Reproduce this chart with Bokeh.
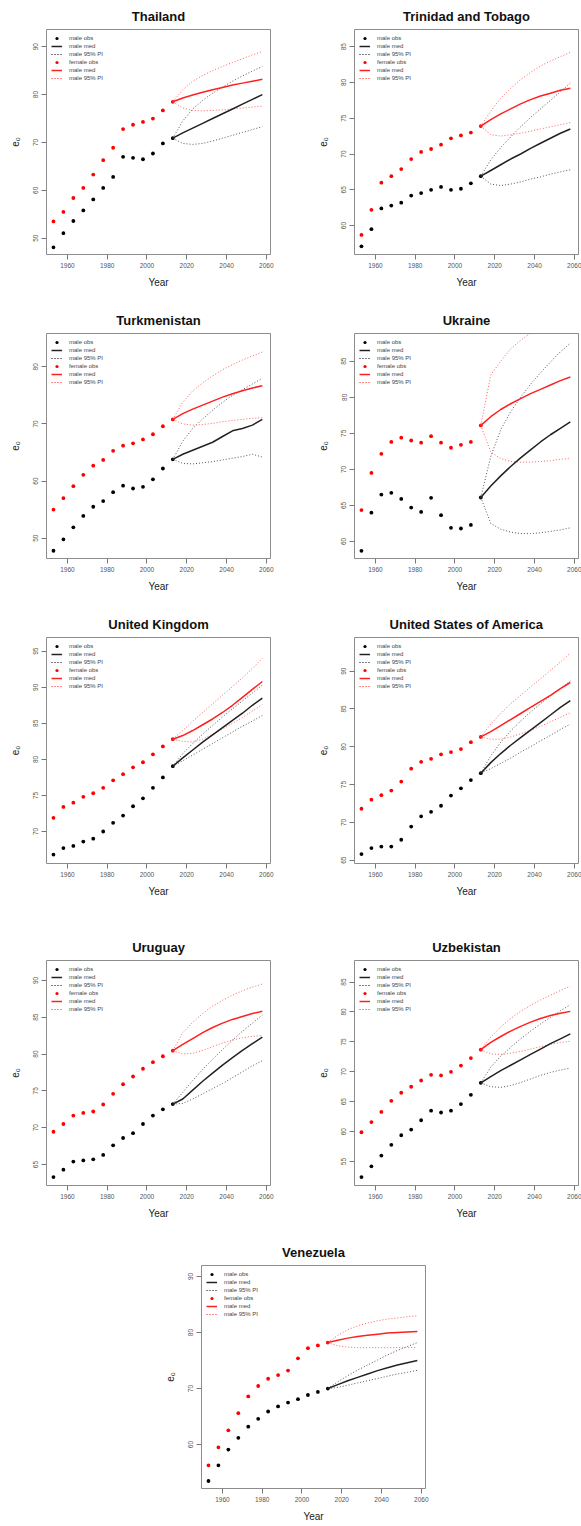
from bokeh.plotting import figure
from bokeh.layouts import column, row, Spacer
from bokeh.models import Legend, LegendItem, FixedTicker, Range1d
from bokeh.embed import file_html
from bokeh.resources import INLINE

YEARS_OBS = [1953, 1958, 1963, 1968, 1973, 1978, 1983, 1988, 1993, 1998, 2003, 2008, 2013]
YEARS_PROJ = [2013, 2018, 2023, 2028, 2033, 2038, 2043, 2048, 2053, 2058]
X_TICKS = [1960, 1980, 2000, 2020, 2040, 2060]

# ---------------- Thailand
tha_yticks = [50, 60, 70, 80, 90]
tha_male_obs = [48.1, 51.05, 53.6, 55.8, 58.1, 60.5, 62.8, 67.0, 66.8, 66.5, 67.7, 69.8, 70.9]
tha_female_obs = [53.5, 55.5, 58.4, 60.5, 63.3, 66.3, 68.9, 72.8, 73.7, 74.3, 75.0, 76.7, 78.5]
tha_male_med = [70.9, 72.0, 73.0, 74.0, 75.0, 76.0, 77.0, 78.0, 79.0, 80.0]
tha_male_hi = [70.9, 74.5, 77.0, 78.8, 80.3, 81.6, 82.8, 83.9, 84.9, 85.9]
tha_male_lo = [70.9, 69.8, 69.6, 69.8, 70.3, 70.9, 71.5, 72.1, 72.7, 73.3]
tha_fem_med = [78.5, 79.3, 79.9, 80.5, 81.0, 81.5, 82.0, 82.4, 82.8, 83.2]
tha_fem_hi = [78.5, 81.0, 82.8, 84.0, 85.0, 85.9, 86.7, 87.5, 88.3, 89.0]
tha_fem_lo = [78.5, 77.2, 76.7, 76.6, 76.7, 76.8, 77.0, 77.2, 77.4, 77.6]

# ---------------- Trinidad and Tobago
tto_yticks = [60, 65, 70, 75, 80, 85]
tto_male_obs = [57.1, 59.5, 62.4, 62.8, 63.2, 64.2, 64.55, 65.0, 65.4, 65.0, 65.15, 65.9, 66.9]
tto_female_obs = [58.7, 62.2, 66.0, 66.9, 67.9, 69.3, 70.3, 70.7, 71.3, 72.2, 72.6, 73.0, 73.9]
tto_male_med = [66.9, 67.7, 68.5, 69.3, 70.0, 70.8, 71.5, 72.2, 72.9, 73.5]
tto_male_hi = [66.9, 69.2, 70.9, 72.4, 73.8, 75.1, 76.3, 77.5, 78.7, 79.9]
tto_male_lo = [66.9, 65.8, 65.6, 65.8, 66.1, 66.5, 66.8, 67.2, 67.5, 67.8]
tto_fem_med = [73.9, 74.8, 75.6, 76.3, 77.0, 77.6, 78.1, 78.5, 78.9, 79.2]
tto_fem_hi = [73.9, 76.0, 77.8, 79.2, 80.4, 81.4, 82.3, 83.0, 83.6, 84.2]
tto_fem_lo = [73.9, 72.7, 72.5, 72.7, 72.9, 73.2, 73.5, 73.8, 74.1, 74.4]

# ---------------- Turkmenistan
tkm_yticks = [50, 60, 70, 80]
tkm_male_obs = [47.8, 49.8, 51.9, 53.9, 55.5, 56.5, 58.05, 59.2, 58.7, 59.0, 60.3, 62.2, 63.8]
tkm_female_obs = [55.0, 57.0, 59.1, 61.1, 62.7, 63.7, 65.3, 66.2, 66.6, 67.3, 68.2, 69.6, 70.8]
tkm_male_med = [63.8, 64.7, 65.4, 66.1, 66.8, 67.8, 68.8, 69.2, 69.8, 70.8]
tkm_male_hi = [63.8, 67.0, 69.2, 70.9, 72.4, 73.8, 75.0, 76.0, 77.0, 78.0]
tkm_male_lo = [63.8, 63.1, 63.0, 63.2, 63.4, 63.7, 64.0, 64.3, 64.7, 64.2]
tkm_fem_med = [70.8, 71.8, 72.6, 73.3, 74.0, 74.7, 75.3, 75.8, 76.3, 76.7]
tkm_fem_hi = [70.8, 73.8, 75.8, 77.2, 78.4, 79.5, 80.4, 81.2, 81.9, 82.6]
tkm_fem_lo = [70.8, 70.0, 69.8, 69.9, 70.1, 70.4, 70.6, 70.8, 71.0, 71.1]

# ---------------- Ukraine
ukr_yticks = [60, 65, 70, 75, 80, 85]
ukr_male_obs = [58.7, 64.0, 66.5, 66.75, 65.9, 64.7, 64.1, 66.05, 63.65, 61.9, 61.8, 62.3, 66.1]
ukr_female_obs = [64.35, 69.5, 72.15, 73.8, 74.4, 74.0, 73.7, 74.6, 73.7, 73.0, 73.4, 73.8, 76.1]
ukr_male_med = [66.1, 67.7, 69.1, 70.4, 71.6, 72.7, 73.8, 74.8, 75.7, 76.6]
ukr_male_hi = [66.1, 71.8, 75.5, 78.0, 80.0, 81.8, 83.4, 84.9, 86.3, 87.5]
ukr_male_lo = [66.1, 62.5, 61.7, 61.3, 61.1, 61.1, 61.2, 61.4, 61.6, 61.9]
ukr_fem_med = [76.1, 77.3, 78.3, 79.1, 79.8, 80.5, 81.1, 81.7, 82.3, 82.8]
ukr_fem_hi = [76.1, 83.1, 85.0, 86.7, 87.9, 88.9, 89.8, 90.5, 91.1, 91.7]
ukr_fem_lo = [76.1, 72.4, 71.5, 71.1, 71.0, 71.0, 71.1, 71.2, 71.4, 71.5]

# ---------------- United Kingdom
gbr_yticks = [70, 75, 80, 85, 90, 95]
gbr_male_obs = [66.8, 67.7, 68.0, 68.6, 69.0, 70.0, 71.2, 72.2, 73.5, 74.6, 76.05, 77.5, 79.05]
gbr_female_obs = [71.9, 73.4, 74.0, 74.8, 75.3, 76.05, 77.1, 77.95, 78.9, 79.6, 80.7, 81.8, 82.8]
gbr_male_med = [79.05, 80.2, 81.3, 82.4, 83.4, 84.4, 85.4, 86.4, 87.5, 88.5]
gbr_male_hi = [79.05, 80.8, 82.2, 83.5, 84.7, 85.9, 87.0, 88.1, 89.2, 90.3]
gbr_male_lo = [79.05, 79.8, 80.6, 81.4, 82.2, 83.0, 83.8, 84.6, 85.3, 86.1]
gbr_fem_med = [82.8, 83.3, 84.0, 84.8, 85.6, 86.5, 87.5, 88.6, 89.7, 90.8]
gbr_fem_hi = [82.8, 84.0, 85.3, 86.5, 87.7, 88.9, 90.1, 91.3, 92.6, 94.0]
gbr_fem_lo = [82.8, 82.5, 82.4, 82.8, 83.5, 84.2, 85.0, 85.8, 86.7, 87.6]

# ---------------- United States of America
usa_yticks = [65, 70, 75, 80, 85, 90]
usa_male_obs = [65.8, 66.6, 66.8, 66.8, 67.7, 69.45, 70.8, 71.4, 72.2, 73.55, 74.5, 75.6, 76.5]
usa_female_obs = [71.8, 73.0, 73.6, 74.2, 75.4, 77.1, 78.0, 78.4, 79.0, 79.3, 79.7, 80.6, 81.3]
usa_male_med = [76.5, 77.9, 79.1, 80.2, 81.2, 82.2, 83.2, 84.2, 85.2, 86.1]
usa_male_hi = [76.5, 78.8, 80.6, 82.1, 83.4, 84.6, 85.7, 86.7, 87.7, 88.7]
usa_male_lo = [76.5, 77.1, 77.8, 78.5, 79.3, 80.0, 80.8, 81.5, 82.3, 83.0]
usa_fem_med = [81.3, 82.0, 82.8, 83.6, 84.4, 85.2, 86.0, 86.8, 87.7, 88.5]
usa_fem_hi = [81.3, 83.0, 84.4, 85.7, 86.8, 87.9, 89.0, 90.1, 91.2, 92.4]
usa_fem_lo = [81.3, 81.0, 81.0, 81.3, 81.7, 82.2, 82.7, 83.3, 83.9, 84.5]

# ---------------- Uruguay
ury_yticks = [65, 70, 75, 80, 85, 90]
ury_male_obs = [63.3, 64.3, 65.4, 65.55, 65.7, 66.3, 67.6, 68.6, 69.25, 70.5, 71.65, 72.5, 73.2]
ury_female_obs = [69.45, 70.5, 71.65, 72.0, 72.2, 73.15, 74.6, 75.9, 76.95, 78.0, 78.9, 79.7, 80.45]
ury_male_med = [73.2, 73.9, 75.1, 76.3, 77.4, 78.5, 79.5, 80.5, 81.4, 82.3]
ury_male_hi = [73.2, 74.8, 76.4, 77.9, 79.3, 80.6, 81.9, 83.1, 84.2, 85.3]
ury_male_lo = [73.2, 73.3, 73.9, 74.6, 75.3, 76.0, 76.8, 77.6, 78.4, 79.1]
ury_fem_med = [80.45, 81.3, 82.1, 82.9, 83.6, 84.2, 84.7, 85.1, 85.5, 85.8]
ury_fem_hi = [80.45, 82.9, 84.3, 85.5, 86.5, 87.3, 88.0, 88.6, 89.1, 89.5]
ury_fem_lo = [80.45, 80.0, 80.1, 80.5, 81.0, 81.5, 81.9, 82.2, 82.4, 82.5]

# ---------------- Uzbekistan
uzb_yticks = [55, 60, 65, 70, 75, 80, 85]
uzb_male_obs = [52.4, 54.2, 56.0, 57.8, 59.4, 60.35, 61.9, 63.5, 63.2, 63.5, 64.6, 66.15, 68.15]
uzb_female_obs = [59.9, 61.6, 63.3, 65.15, 66.5, 67.5, 68.55, 69.5, 69.4, 70.0, 71.05, 72.3, 73.7]
uzb_male_med = [68.15, 69.2, 70.2, 71.1, 72.0, 72.9, 73.8, 74.7, 75.5, 76.35]
uzb_male_hi = [68.15, 70.8, 72.6, 74.1, 75.5, 76.8, 78.0, 79.1, 80.2, 81.2]
uzb_male_lo = [68.15, 67.5, 67.4, 67.7, 68.2, 68.8, 69.4, 69.9, 70.3, 70.6]
uzb_fem_med = [73.7, 74.9, 75.9, 76.8, 77.6, 78.3, 78.9, 79.4, 79.8, 80.1]
uzb_fem_hi = [73.7, 75.8, 77.5, 78.9, 80.1, 81.1, 82.0, 82.8, 83.6, 84.3]
uzb_fem_lo = [73.7, 73.0, 72.9, 73.1, 73.4, 73.8, 74.2, 74.6, 74.9, 75.1]

# ---------------- Venezuela
ven_yticks = [60, 70, 80, 90]
ven_male_obs = [53.5, 56.3, 59.1, 61.2, 63.2, 64.6, 65.9, 66.8, 67.5, 68.1, 68.85, 69.4, 70.0]
ven_female_obs = [56.3, 59.5, 62.55, 65.6, 68.6, 70.45, 71.75, 72.4, 73.2, 75.4, 77.2, 77.7, 78.2]
ven_male_med = [70.0, 70.7, 71.4, 72.0, 72.6, 73.2, 73.7, 74.2, 74.6, 75.0]
ven_male_hi = [70.0, 71.2, 72.3, 73.3, 74.2, 75.1, 76.0, 76.8, 77.5, 78.2]
ven_male_lo = [70.0, 70.2, 70.6, 71.0, 71.4, 71.8, 72.2, 72.6, 72.9, 73.25]
ven_fem_med = [78.2, 78.6, 79.0, 79.3, 79.5, 79.7, 79.9, 80.0, 80.1, 80.2]
ven_fem_hi = [78.2, 79.5, 80.5, 81.2, 81.7, 82.1, 82.4, 82.6, 82.8, 83.0]
ven_fem_lo = [78.2, 77.6, 77.4, 77.3, 77.3, 77.3, 77.3, 77.3, 77.3, 77.3]

FONT = "Liberation Sans"


def panel(title, yticks, yr, male_obs, female_obs, male_med, male_lo, male_hi,
          fem_med, fem_lo, fem_hi, left, right, top, bottom, fh):
    p = figure(frame_width=224, frame_height=fh,
               min_border_left=left, min_border_right=right,
               min_border_top=top, min_border_bottom=bottom,
               x_range=Range1d(1949.5, 2062.1), y_range=Range1d(*yr),
               output_backend="svg", toolbar_location=None,
               background_fill_color="white", border_fill_color="white")
    p.title.text = title
    p.title.align = "center"
    p.title.text_font = FONT
    p.title.text_font_size = "13px"
    p.title.text_font_style = "bold"
    p.title.text_color = "#111111"
    p.title.standoff = 11
    p.outline_line_color = "#8c8c8c"
    p.outline_line_width = 1
    p.xgrid.visible = False
    p.ygrid.visible = False

    p.xaxis.ticker = FixedTicker(ticks=X_TICKS)
    p.yaxis.ticker = FixedTicker(ticks=yticks)
    for ax in (p.xaxis[0], p.yaxis[0]):
        ax.axis_line_color = None
        ax.major_tick_in = 0
        ax.major_tick_out = 5
        ax.major_tick_line_color = "#777777"
        ax.minor_tick_line_color = None
        ax.major_label_text_font = FONT
        ax.major_label_text_font_size = "6.5px"
        ax.major_label_text_color = "#555555"
        ax.axis_label_text_font = FONT
        ax.axis_label_text_font_style = "normal"
        ax.axis_label_text_color = "#222222"
    p.xaxis.major_label_standoff = 3
    p.yaxis.major_label_standoff = 3
    p.yaxis.major_label_orientation = "vertical"
    p.xaxis.axis_label = "Year"
    p.xaxis.axis_label_text_font_size = "10px"
    p.xaxis.axis_label_standoff = 6
    p.yaxis.axis_label = "e\u2080"
    p.yaxis.axis_label_text_font_size = "10px"
    p.yaxis.axis_label_standoff = 10

    r_mo = p.scatter(YEARS_OBS, male_obs, size=3.8, color="black", line_width=0)
    r_fo = p.scatter(YEARS_OBS, female_obs, size=3.8, color="red", line_width=0)
    r_mlo = p.line(YEARS_PROJ, male_lo, line_color="#555555", line_width=1, line_dash="1 2")
    r_mhi = p.line(YEARS_PROJ, male_hi, line_color="#555555", line_width=1, line_dash="1 2")
    r_flo = p.line(YEARS_PROJ, fem_lo, line_color="#ff6060", line_width=1, line_dash="1 2")
    r_fhi = p.line(YEARS_PROJ, fem_hi, line_color="#ff6060", line_width=1, line_dash="1 2")
    r_mm = p.line(YEARS_PROJ, male_med, line_color="#222222", line_width=1.5)
    r_fm = p.line(YEARS_PROJ, fem_med, line_color="#ff2020", line_width=1.5)

    items = [
        LegendItem(label="male obs", renderers=[r_mo]),
        LegendItem(label="male med", renderers=[r_mm]),
        LegendItem(label="male 95% PI", renderers=[r_mlo, r_mhi]),
        LegendItem(label="female obs", renderers=[r_fo]),
        LegendItem(label="male med", renderers=[r_fm]),
        LegendItem(label="male 95% PI", renderers=[r_flo, r_fhi]),
    ]
    lg = Legend(items=items, location="top_left", margin=1, padding=4,
                spacing=0, glyph_width=11, glyph_height=8, label_height=8,
                label_standoff=7, label_text_font=FONT, label_text_font_size="6px",
                label_text_color="#444444", border_line_alpha=0,
                background_fill_alpha=0)
    p.add_layout(lg)
    return p


# rows: top border 29, frame heights and bottom borders chosen per row
L, RL = 46, 64
p1 = panel("Thailand", tha_yticks, (46.6, 93.6), tha_male_obs, tha_female_obs, tha_male_med,
           tha_male_lo, tha_male_hi, tha_fem_med, tha_fem_lo, tha_fem_hi, L, 20, 29, 50, 225)
p2 = panel("Trinidad and Tobago", tto_yticks, (55.96, 87.4), tto_male_obs, tto_female_obs, tto_male_med,
           tto_male_lo, tto_male_hi, tto_fem_med, tto_fem_lo, tto_fem_hi, RL, 3, 29, 50, 225)
p3 = panel("Turkmenistan", tkm_yticks, (46.44, 85.84), tkm_male_obs, tkm_female_obs, tkm_male_med,
           tkm_male_lo, tkm_male_hi, tkm_fem_med, tkm_fem_lo, tkm_fem_hi, L, 20, 29, 50, 225)
p4 = panel("Ukraine", ukr_yticks, (57.64, 88.84), ukr_male_obs, ukr_female_obs, ukr_male_med,
           ukr_male_lo, ukr_male_hi, ukr_fem_med, ukr_fem_lo, ukr_fem_hi, RL, 3, 29, 50, 225)
p5 = panel("United Kingdom", gbr_yticks, (65.56, 96.9), gbr_male_obs, gbr_female_obs, gbr_male_med,
           gbr_male_lo, gbr_male_hi, gbr_fem_med, gbr_fem_lo, gbr_fem_hi, L, 20, 29, 68, 226)
p6 = panel("United States of America", usa_yticks, (64.56, 94.45), usa_male_obs, usa_female_obs, usa_male_med,
           usa_male_lo, usa_male_hi, usa_fem_med, usa_fem_lo, usa_fem_hi, RL, 3, 29, 68, 226)
p7 = panel("Uruguay", ury_yticks, (62.15, 92.7), ury_male_obs, ury_female_obs, ury_male_med,
           ury_male_lo, ury_male_hi, ury_fem_med, ury_fem_lo, ury_fem_hi, L, 20, 29, 51, 225)
p8 = panel("Uzbekistan", uzb_yticks, (51.0, 88.6), uzb_male_obs, uzb_female_obs, uzb_male_med,
           uzb_male_lo, uzb_male_hi, uzb_fem_med, uzb_fem_lo, uzb_fem_hi, RL, 3, 29, 51, 225)
p9 = panel("Venezuela", ven_yticks, (52.16, 91.96), ven_male_obs, ven_female_obs, ven_male_med,
           ven_male_lo, ven_male_hi, ven_fem_med, ven_fem_lo, ven_fem_hi, L, 20, 29, 38, 223)

layout = column(
    row(p1, p2),
    row(p3, p4),
    row(p5, p6),
    row(p7, p8),
    row(Spacer(width=155, height=290), p9),
)

open("out.html", "w").write(file_html(layout, INLINE))
